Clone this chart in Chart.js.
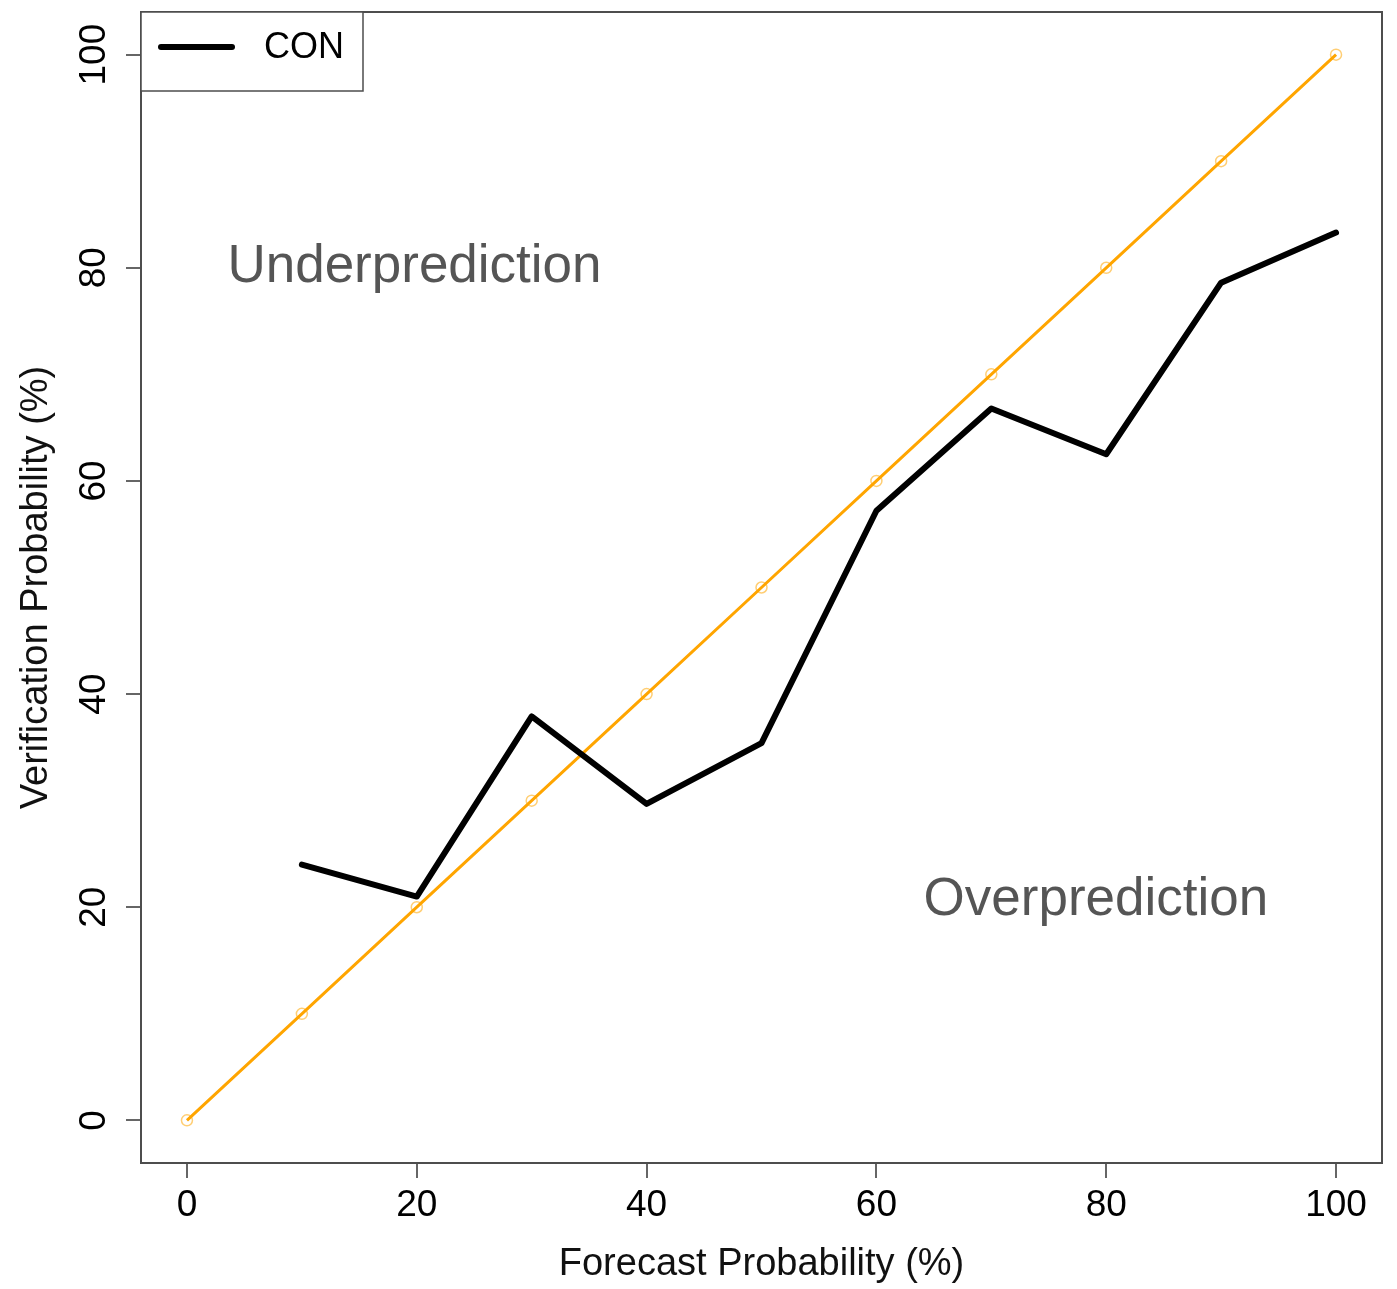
<!DOCTYPE html>
<html>
<head>
<meta charset="utf-8">
<script src="https://cdn.jsdelivr.net/npm/chart.js@4/dist/chart.umd.min.js"></script>
<style>
  html, body { margin: 0; padding: 0; background: #fff; }
  #chart { display: block; }
</style>
</head>
<body>
<canvas id="chart" width="1397" height="1289"></canvas>
<script>
// reliability diagram: observed frequency vs forecast probability
const forecastProb = [10, 20, 30, 40, 50, 60, 70, 80, 90, 100];
const verificationProb = [24.0, 21.0, 37.9, 29.7, 35.4, 57.2, 66.8, 62.5, 78.6, 83.3];
const perfectX = [0, 10, 20, 30, 40, 50, 60, 70, 80, 90, 100];
const perfectY = [0, 10, 20, 30, 40, 50, 60, 70, 80, 90, 100];
const tickValues = [0, 20, 40, 60, 80, 100];
const seriesName = "CON";
const regionLabels = [
  { text: "Underprediction", x: 19.8, y: 80.0 },
  { text: "Overprediction", x: 79.1, y: 20.6 },
];

const FONT = "'Liberation Sans', Arial, Helvetica, sans-serif";

const fixedTicks = (scale) => {
  scale.ticks = tickValues.map((v) => ({ value: v }));
};

const boxAndText = {
  id: "boxAndText",
  afterDraw(chart) {
    const { ctx, chartArea: a, scales } = chart;
    const xs = scales.x, ys = scales.y;
    ctx.save();

    // plot frame
    ctx.strokeStyle = "#4d4d4d";
    ctx.lineWidth = 2;
    ctx.strokeRect(a.left, a.top, a.right - a.left, a.bottom - a.top);

    // y tick labels, rotated like the base graphics default
    ctx.fillStyle = "#000";
    ctx.font = "37px " + FONT;
    ctx.textAlign = "center";
    ctx.textBaseline = "middle";
    tickValues.forEach((v) => {
      ctx.save();
      ctx.translate(95, ys.getPixelForValue(v));
      ctx.rotate(-Math.PI / 2);
      ctx.fillText(String(v), 0, 0);
      ctx.restore();
    });

    // region annotations
    ctx.fillStyle = "#555";
    ctx.font = "53px " + FONT;
    regionLabels.forEach((r) => {
      ctx.fillText(r.text, xs.getPixelForValue(r.x), ys.getPixelForValue(r.y));
    });

    // legend
    const lx = a.left, ly = a.top;
    ctx.fillStyle = "#fff";
    ctx.fillRect(lx, ly, 222, 79);
    ctx.strokeStyle = "#4d4d4d";
    ctx.lineWidth = 1.5;
    ctx.strokeRect(lx, ly, 222, 79);
    ctx.strokeStyle = "#000";
    ctx.lineWidth = 6;
    ctx.lineCap = "round";
    ctx.beginPath();
    ctx.moveTo(lx + 20, ly + 35);
    ctx.lineTo(lx + 91, ly + 35);
    ctx.stroke();
    ctx.fillStyle = "#000";
    ctx.font = "36px " + FONT;
    ctx.textAlign = "left";
    ctx.fillText(seriesName, lx + 123, ly + 36);

    ctx.restore();
  },
};

new Chart(document.getElementById("chart"), {
  type: "scatter",
  data: {
    datasets: [
      {
        label: seriesName,
        data: forecastProb.map((x, i) => ({ x, y: verificationProb[i] })),
        showLine: true,
        borderColor: "#000",
        borderWidth: 6,
        borderJoinStyle: "round",
        borderCapStyle: "round",
        pointRadius: 0,
      },
      {
        label: "perfect",
        data: perfectX.map((x, i) => ({ x, y: perfectY[i] })),
        showLine: true,
        borderColor: "#ffa500",
        borderWidth: 3,
        pointRadius: 5.5,
        pointBorderWidth: 1.5,
        pointBorderColor: "rgba(255,165,0,0.55)",
        pointBackgroundColor: "rgba(0,0,0,0)",
      },
    ],
  },
  options: {
    responsive: false,
    animation: false,
    layout: { padding: { left: 0, top: 12, right: 15, bottom: 0 } },
    plugins: {
      legend: { display: false },
      tooltip: { enabled: false },
    },
    scales: {
      x: {
        type: "linear",
        min: -4,
        max: 104,
        afterBuildTicks: fixedTicks,
        afterFit: (s) => { s.height = 126; },
        border: { display: false },
        grid: {
          drawOnChartArea: false,
          drawTicks: true,
          tickLength: 15,
          color: "#666",
          lineWidth: 2,
        },
        ticks: {
          color: "#000",
          font: { family: FONT, size: 37 },
          padding: 6,
          maxRotation: 0,
          autoSkip: false,
        },
        title: {
          display: true,
          text: "Forecast Probability (%)",
          color: "#111",
          font: { family: FONT, size: 38 },
          padding: { top: 0, bottom: 2 },
        },
      },
      y: {
        type: "linear",
        min: -4,
        max: 104,
        afterBuildTicks: fixedTicks,
        afterFit: (s) => { s.width = 141; },
        border: { display: false },
        grid: {
          drawOnChartArea: false,
          drawTicks: true,
          tickLength: 15,
          color: "#666",
          lineWidth: 2,
        },
        ticks: { display: false },
        title: {
          display: true,
          text: "Verification Probability (%)",
          color: "#111",
          font: { family: FONT, size: 38 },
          padding: { top: 14, bottom: 0 },
        },
      },
    },
  },
  plugins: [boxAndText],
});
</script>
</body>
</html>
